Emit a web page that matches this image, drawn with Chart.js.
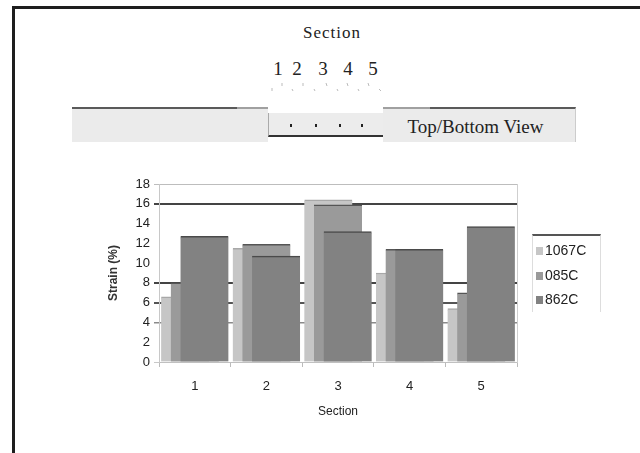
<!DOCTYPE html>
<html>
<head>
<meta charset="utf-8">
<script src="https://cdn.jsdelivr.net/npm/chart.js@4.4.1/dist/chart.umd.min.js"></script>
<style>
  html, body { margin: 0; padding: 0; background: #fff; }
  body { width: 640px; height: 453px; position: relative; overflow: hidden; font-family: "Liberation Sans", Arial, sans-serif; }
  .abs { position: absolute; }
  /* page frame */
  .frame-top { left: 12px; top: 6px; width: 628px; height: 3px; background: #1e1e1e; }
  .frame-left { left: 12px; top: 6px; width: 3px; height: 447px; background: #1e1e1e; }
  /* specimen sketch */
  .serif { font-family: "Liberation Serif", "Times New Roman", serif; color: #222; }
  .sec-title { left: 282px; top: 23px; width: 100px; text-align: center; font-size: 17px; letter-spacing: 1px; }
  .num { top: 58px; font-size: 19px; width: 14px; text-align: center; }
  .box-l { left: 72px; top: 107px; width: 196px; height: 33px; background: #ebebeb; border-top: 2px solid #5a5a5a; }
  .box-l-edge { left: 237px; top: 107px; width: 31px; height: 2px; background: #a0a0a0; }
  .box-m { left: 268px; top: 113px; width: 115px; height: 22px; background: #ececec; border-bottom: 2px solid #333; border-left: 1px solid #aaa; border-right: 1px solid #aaa; }
  .box-r { left: 383px; top: 107px; width: 192px; height: 33px; background: #ebebeb; border-top: 2px solid #5a5a5a; border-right: 1px solid #ccc; }
  .box-r-edge { left: 383px; top: 107px; width: 47px; height: 2px; background: #a0a0a0; }
  .dot { top: 124px; width: 2px; height: 3px; background: #222; }
  .view { left: 393px; top: 116px; width: 165px; text-align: center; font-size: 19px; white-space: nowrap; }
  /* chart */
  #wrap { left: 0; top: 170px; width: 640px; height: 260px; }
  #legend { left: 532px; top: 234px; width: 67px; height: 76px; border-top: 2px solid #555; border-left: 1px solid #ddd; border-right: 1px solid #ddd; }
  .lg-item { position: absolute; left: 3px; height: 15px; font-size: 14px; color: #222; white-space: nowrap; line-height: 15px; }
  .lg-sw { display: inline-block; width: 7px; height: 8px; margin-right: 2px; vertical-align: 0px; }
</style>
</head>
<body>
<div class="abs frame-top"></div>
<div class="abs frame-left"></div>

<div class="abs serif sec-title">Section</div>
<div class="abs serif num" style="left:271px">1</div>
<div class="abs serif num" style="left:290px">2</div>
<div class="abs serif num" style="left:316px">3</div>
<div class="abs serif num" style="left:341px">4</div>
<div class="abs serif num" style="left:366px">5</div>
<svg class="abs" style="left:260px;top:78px" width="130" height="20">
  <g stroke="#bbb" stroke-width="1">
    <line x1="12" y1="10" x2="12" y2="13"/><line x1="22" y1="5" x2="22" y2="8"/>
    <line x1="32" y1="11" x2="33" y2="13"/><line x1="43" y1="5" x2="43" y2="8"/>
    <line x1="54" y1="11" x2="55" y2="13"/><line x1="66" y1="5" x2="67" y2="8"/>
    <line x1="77" y1="11" x2="78" y2="13"/><line x1="87" y1="5" x2="88" y2="8"/>
    <line x1="98" y1="11" x2="99" y2="13"/><line x1="108" y1="5" x2="109" y2="8"/>
    <line x1="119" y1="11" x2="121" y2="13"/>
  </g>
</svg>
<div class="abs box-l"></div>
<div class="abs box-l-edge"></div>
<div class="abs box-m"></div>
<div class="abs box-r"></div>
<div class="abs box-r-edge"></div>
<div class="abs dot" style="left:290px"></div>
<div class="abs dot" style="left:315px"></div>
<div class="abs dot" style="left:339px"></div>
<div class="abs dot" style="left:361px"></div>
<div class="abs serif view">Top/Bottom View</div>

<div id="wrap" class="abs"><canvas id="chart"></canvas></div>
<div id="legend" class="abs"></div>

<script>
// Strain per section for each anneal temperature
const sections = ['1', '2', '3', '4', '5'];
const seriesNames = ['1067C', '085C', '862C'];
const strain1067 = [6.6, 11.5, 16.4, 9.0, 5.4];
const strain985 = [8.0, 11.9, 15.9, 11.4, 7.0];
const strain862 = [12.7, 10.7, 13.2, 11.4, 13.7];
const yTicks = [0, 2, 4, 6, 8, 10, 12, 14, 16, 18];

const seriesValues = [strain1067, strain985, strain862];
const fills = ['#c6c6c6', '#9a9a9a', '#828282'];
const edges = ['#a8a8a8', '#555555', '#4a4a4a'];
// bars in a group overlap, each one shifted right of the previous
const shift = [-0.135, 0, 0.135];

const font = { family: '"Liberation Sans", Arial, sans-serif', size: 13 };

const gridColors = { 0: '#c8c8c8', 4: '#8a8a8a', 6: '#555555', 8: '#444444', 16: '#444444', 18: '#bdbdbd' };
const gridWidths = { 4: 1.5, 6: 2, 8: 2, 16: 2 };

const datasets = seriesValues.map((vals, s) => ({
    label: seriesNames[s],
    data: vals.map((v, i) => ({ x: i + 1 + shift[s], y: v })),
    xAxisID: 'xb',
    grouped: false,
    backgroundColor: fills[s],
    borderColor: edges[s],
    borderWidth: { top: 1.5, left: 0, right: 0, bottom: 0 },
    barThickness: 48,
    order: 2 - s
}));

const chart = new Chart(document.getElementById('chart'), {
    type: 'bar',
    data: { labels: sections, datasets: datasets },
    options: {
        responsive: true,
        maintainAspectRatio: false,
        animation: false,
        layout: { padding: { left: 100, right: 123, top: 14, bottom: 11 } },
        plugins: { legend: { display: false }, tooltip: { enabled: false } },
        scales: {
            x: {
                type: 'category',
                labels: sections,
                position: 'bottom',
                offset: true,
                grid: { offset: true, drawOnChartArea: false, tickLength: 5, color: '#bbbbbb' },
                border: { color: '#c0c0c0' },
                ticks: { padding: 12, font: font, color: '#222' },
                title: { display: true, text: 'Section', font: { family: font.family, size: 12 }, color: '#222', padding: { top: 4, bottom: 0 } },
                afterFit: s => { s.height = 57; }
            },
            xb: { type: 'linear', min: 0.5, max: 5.5, offset: false, display: false },
            y: {
                min: 0,
                max: 18,
                afterBuildTicks: s => { s.ticks = yTicks.map(v => ({ value: v })); },
                grid: {
                    tickLength: 5,
                    color: c => gridColors[c.tick.value] || 'rgba(0,0,0,0)',
                    lineWidth: c => gridWidths[c.tick.value] || 1
                },
                border: { color: '#c8c8c8' },
                ticks: { padding: 4, font: font, color: '#222' },
                title: { display: true, text: 'Strain (%)', font: { family: font.family, size: 12, weight: 'bold' }, color: '#333', padding: { top: 6, bottom: 0 } },
                afterFit: s => { s.width = 59; }
            },
            yr: {
                position: 'right',
                min: 0,
                max: 18,
                ticks: { display: false },
                grid: { display: false, drawTicks: false },
                border: { color: '#cfcfcf' },
                afterFit: s => { s.width = 0; }
            }
        }
    }
});

// legend box to the right of the plot
const legend = document.getElementById('legend');
seriesNames.forEach((name, s) => {
    const item = document.createElement('div');
    item.className = 'lg-item';
    item.style.top = (7 + s * 24.5) + 'px';
    const sw = document.createElement('span');
    sw.className = 'lg-sw';
    sw.style.background = fills[s];
    item.appendChild(sw);
    item.appendChild(document.createTextNode(name));
    legend.appendChild(item);
});
</script>
</body>
</html>
